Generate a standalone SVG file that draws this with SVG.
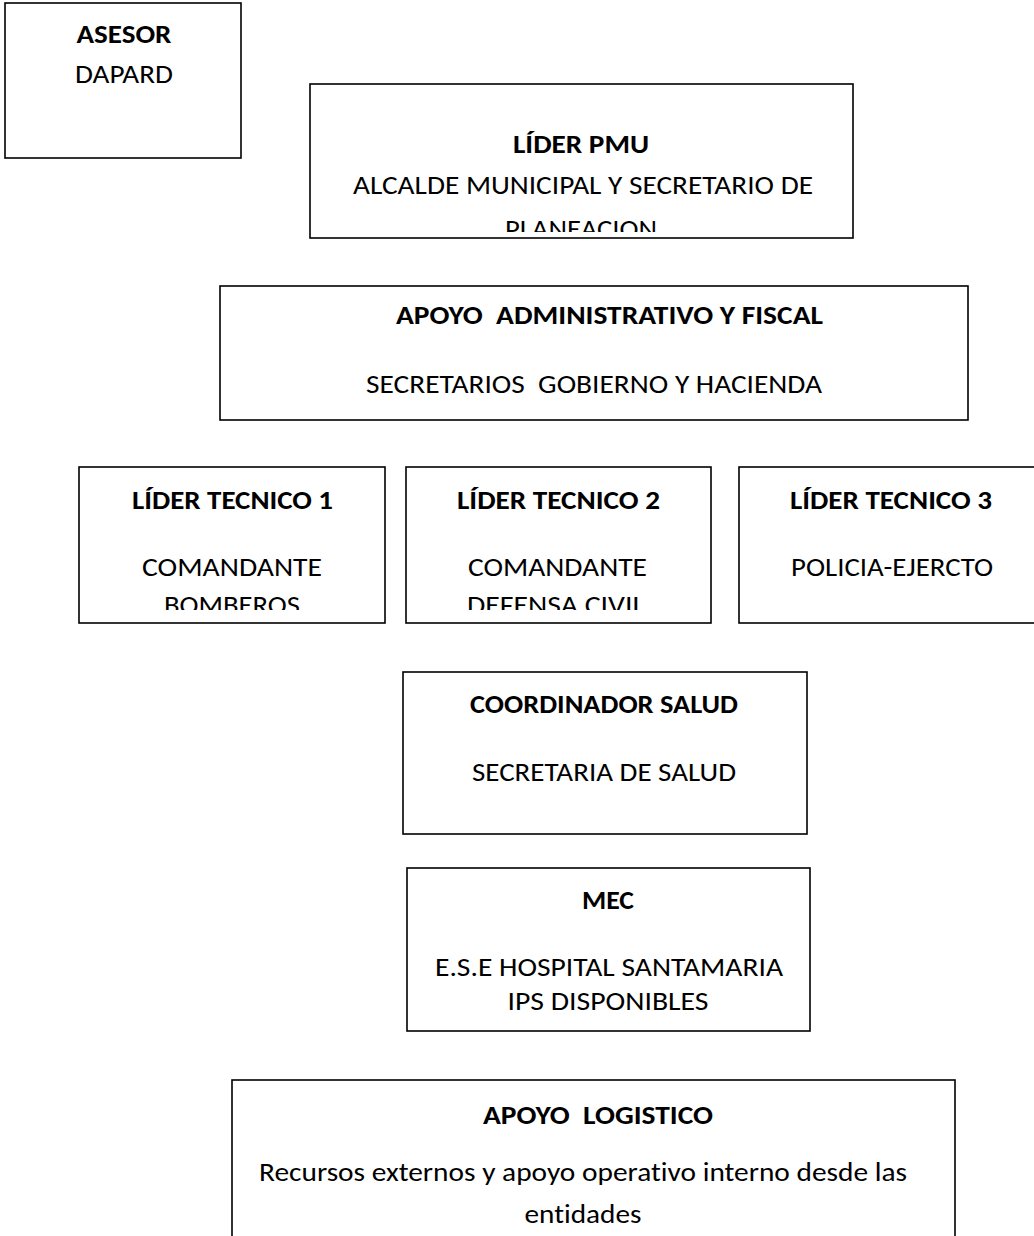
<svg xmlns="http://www.w3.org/2000/svg" width="1034" height="1236" viewBox="0 0 1034 1236">
<style>
.box{fill:#fff;stroke:#000;stroke-width:1.6}
text{font-family:Carlito,Lato,"Open Sans",sans-serif;font-size:27px;fill:#000;text-anchor:middle;font-variant-ligatures:none;font-feature-settings:"liga" 0,"clig" 0;white-space:pre}
.b{font-weight:bold}
</style>
<defs>
<clipPath id="c1"><rect x="310" y="84" width="543" height="148"/></clipPath>
<clipPath id="c2"><rect x="79" y="467" width="960" height="143"/></clipPath>
</defs>
<rect width="1034" height="1236" fill="#fff"/>
<g id="connectors"></g>
<g id="asesor">
<rect class="box" x="5" y="3" width="236" height="155"/>
<text class="b" x="124" y="43" textLength="95" lengthAdjust="spacingAndGlyphs">ASESOR</text>
<text x="124" y="83" textLength="98" lengthAdjust="spacingAndGlyphs">DAPARD</text>
</g>
<g id="lider-pmu">
<rect class="box" x="310" y="84" width="543" height="154"/>
<text class="b" x="581" y="153" textLength="136" lengthAdjust="spacingAndGlyphs">LÍDER PMU</text>
<g clip-path="url(#c1)">
<text x="583" y="194" textLength="460" lengthAdjust="spacingAndGlyphs">ALCALDE MUNICIPAL Y SECRETARIO DE</text>
<text x="581" y="238" textLength="152" lengthAdjust="spacingAndGlyphs">PLANEACION</text>
</g>
</g>
<g id="apoyo-admin">
<rect class="box" x="220" y="286" width="748" height="134"/>
<text class="b" x="609.5" y="324" textLength="427" lengthAdjust="spacingAndGlyphs" xml:space="preserve">APOYO  ADMINISTRATIVO Y FISCAL</text>
<text x="594" y="393" textLength="456" lengthAdjust="spacingAndGlyphs" xml:space="preserve">SECRETARIOS  GOBIERNO Y HACIENDA</text>
</g>
<g id="lider-tecnico-1">
<rect class="box" x="79" y="467" width="306" height="156"/>
<text class="b" x="232.5" y="509" textLength="201" lengthAdjust="spacingAndGlyphs">LÍDER TECNICO 1</text>
<text x="232" y="576" textLength="180" lengthAdjust="spacingAndGlyphs">COMANDANTE</text>
<text x="232" y="614" clip-path="url(#c2)" textLength="136" lengthAdjust="spacingAndGlyphs">BOMBEROS</text>
</g>
<g id="lider-tecnico-2">
<rect class="box" x="406" y="467" width="305" height="156"/>
<text class="b" x="558.5" y="509" textLength="203" lengthAdjust="spacingAndGlyphs">LÍDER TECNICO 2</text>
<text x="557.5" y="576" textLength="179" lengthAdjust="spacingAndGlyphs">COMANDANTE</text>
<text x="556" y="614" clip-path="url(#c2)" textLength="178" lengthAdjust="spacingAndGlyphs">DEFENSA CIVIL</text>
</g>
<g id="lider-tecnico-3">
<rect class="box" x="739" y="467" width="307" height="156"/>
<text class="b" x="891" y="509" textLength="202" lengthAdjust="spacingAndGlyphs">LÍDER TECNICO 3</text>
<text x="892" y="576" textLength="202" lengthAdjust="spacingAndGlyphs">POLICIA-EJERCTO</text>
</g>
<g id="coordinador-salud">
<rect class="box" x="403" y="672" width="404" height="162"/>
<text class="b" x="604" y="713" textLength="268" lengthAdjust="spacingAndGlyphs">COORDINADOR SALUD</text>
<text x="604" y="781" textLength="264" lengthAdjust="spacingAndGlyphs">SECRETARIA DE SALUD</text>
</g>
<g id="mec">
<rect class="box" x="407" y="868" width="403" height="163"/>
<text class="b" x="608" y="909" textLength="52" lengthAdjust="spacingAndGlyphs">MEC</text>
<text x="609" y="976" textLength="348" lengthAdjust="spacingAndGlyphs">E.S.E HOSPITAL SANTAMARIA</text>
<text x="608" y="1010" textLength="201" lengthAdjust="spacingAndGlyphs">IPS DISPONIBLES</text>
</g>
<g id="apoyo-logistico">
<rect class="box" x="232" y="1080" width="723" height="200"/>
<text class="b" x="598" y="1124" textLength="230" lengthAdjust="spacingAndGlyphs" xml:space="preserve">APOYO  LOGISTICO</text>
<text x="583" y="1181" textLength="648" lengthAdjust="spacingAndGlyphs">Recursos externos y apoyo operativo interno desde las</text>
<text x="583" y="1223" textLength="117" lengthAdjust="spacingAndGlyphs">entidades</text>
</g>
</svg>
